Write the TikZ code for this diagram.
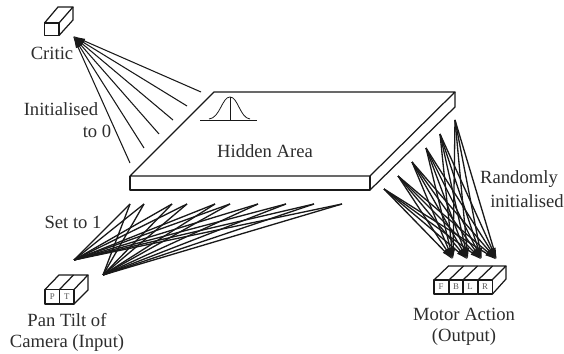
\documentclass[tikz,border=0pt]{standalone}
\usepackage{fontspec}
\setmainfont{Liberation Serif}
\usepackage{xcolor}
\usetikzlibrary{arrows.meta}
\definecolor{qtext}{RGB}{45,45,45}
\definecolor{qline}{RGB}{25,25,25}
\tikzset{
  lbl/.style={color=qtext,font=\fontsize{10.6}{12}\selectfont,inner sep=0pt},
  tiny lbl/.style={color=qtext!80,font=\fontsize{5}{6}\selectfont,inner sep=0pt},
  box/.style={color=qline,line width=0.7pt,line join=round},
  wire/.style={color=qline,line width=0.75pt},
  tip/.style={-{Latex[length=7pt,width=2.6pt]}},
}
\begin{document}
\begin{tikzpicture}[x=0.02cm,y=-0.02cm]
\useasboundingbox (0,0) rectangle (564,354);

% hidden area
\draw[box] (214,92) -- (455,92) -- (370,176) -- (130,176) -- cycle;
\draw[box] (130,176) -- (130,190) -- (370,190) -- (370,176);
\draw[box] (370,190) -- (455,107) -- (455,92);
\draw[box,line width=0.45pt] (200,120) -- (257,120);
\draw[box,line width=0.45pt] (230,97) -- (230,120);
\draw[box,line width=0.45pt] (209,119) .. controls (220,118) and (222,97) .. (230,97)
  .. controls (238,97) and (240,118) .. (250,119);
\node[lbl] (hidden) at (265,151) {Hidden Area};

% critic
\draw[box] (44.5,23) rectangle (59,35.5);
\draw[box] (44.5,23) -- (58,7) -- (73,7) -- (59,23);
\draw[box] (73,7) -- (73,20) -- (59,35.5);
\node[lbl] (critic) at (52,53) {Critic};
\node[lbl] (init) at (61,109) {Initialised};
\node[lbl] (zero) at (97,131) {to 0};
\coordinate (ca) at (73,36);
\foreach \i/\x/\y in {1/130/163,2/144/148,3/159/134,4/173/120,5/187/106,6/201/92}{
  \coordinate (c\i) at (\x,\y);
  \draw[wire,line width=0.6pt,tip] (c\i) -- (ca);
}

% pan tilt input
\draw[box] (45,289.5) rectangle (59.5,304);
\draw[box] (59.5,289.5) rectangle (74,304);
\draw[box] (45,289.5) -- (59,275) -- (88,275) -- (74,289.5);
\draw[box] (59.5,289.5) -- (73.5,275);
\draw[box] (88,275) -- (88,290) -- (74,304);
\node[tiny lbl] (p) at (52.2,297) {P};
\node[tiny lbl] (t) at (66.8,297) {T};
\node[lbl] (pan) at (67,320) {Pan Tilt of};
\node[lbl] (cam) at (67,343) {Camera (Input)};
\node[lbl] (set) at (73,222) {Set to 1};
\coordinate (ia) at (74,260);
\coordinate (ib) at (103,275);
\foreach \i/\x in {1/130,2/144,3/172,4/187,5/215,6/230,7/258,8/286,9/314,10/342}{
  \coordinate (h\i) at (\x,204);
  \draw[wire] (h\i) -- (ia);
  \draw[wire] (h\i) -- (ib);
}

% motor output
\foreach \x in {434,449,463,478}{
  \draw[box] (\x,280) rectangle (\x+14.5,294);
  \draw[box] (\x,280) -- (\x+14.5,266);
}
\draw[box] (448,266) -- (506,266) -- (492,280);
\draw[box] (506,266) -- (506,279) -- (492.5,294);
\node[tiny lbl] (f) at (441,287) {F};
\node[tiny lbl] (b) at (456,287) {B};
\node[tiny lbl] (l) at (470,287) {L};
\node[tiny lbl] (r) at (485,287) {R};
\node[lbl] (motor) at (464,314) {Motor Action};
\node[lbl] (out) at (464,337) {(Output)};
\node[lbl] (rand) at (519,179) {Randomly};
\node[lbl] (rinit) at (527,201) {initialised};
\foreach \j/\x in {1/453,2/468,3/482,4/497}{
  \coordinate (m\j) at (\x,260);
}
\foreach \i/\x/\y in {1/384/189,2/398/176,3/412/162,4/426/148,5/440/134,6/455/120}{
  \coordinate (o\i) at (\x,\y);
  \foreach \j in {1,2,3,4}{
    \draw[wire,tip] (o\i) -- (m\j);
  }
}
\end{tikzpicture}
\end{document}
